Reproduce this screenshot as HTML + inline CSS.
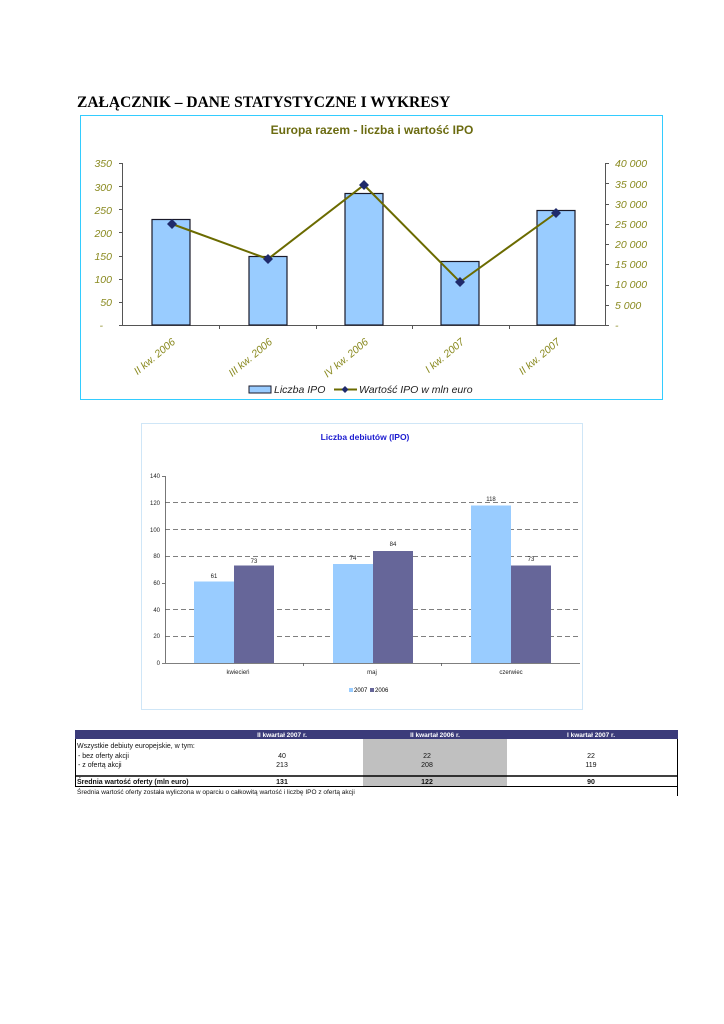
<!DOCTYPE html>
<html><head><meta charset="utf-8"><style>
html,body{margin:0;padding:0;background:#fff;}
svg{display:block;}
</style></head><body>
<svg width="724" height="1024" viewBox="0 0 724 1024" xmlns="http://www.w3.org/2000/svg" font-family="Liberation Sans, sans-serif">
<text x="77" y="107" font-family="Liberation Serif, serif" font-weight="bold" font-size="15.5">ZAŁĄCZNIK – DANE STATYSTYCZNE I WYKRESY</text>

<!-- Chart 1 -->
<rect x="80.5" y="115.5" width="582" height="284" fill="#fff" stroke="#33ccff" stroke-width="1"/>
<text x="372" y="134" text-anchor="middle" font-weight="bold" font-size="12" fill="#6b6b10">Europa razem - liczba i wartość IPO</text>
<g fill="#8a8a20" font-style="italic" font-size="10.5" text-anchor="end">
<text x="112" y="167">350</text><text x="112" y="191">300</text><text x="112" y="214">250</text><text x="112" y="237">200</text><text x="112" y="260">150</text><text x="112" y="283">100</text><text x="112" y="306">50</text><text x="103" y="329">-</text>
</g>
<g fill="#8a8a20" font-style="italic" font-size="10.5">
<text x="615" y="167">40 000</text><text x="615" y="188">35 000</text><text x="615" y="208">30 000</text><text x="615" y="228">25 000</text><text x="615" y="248">20 000</text><text x="615" y="268">15 000</text><text x="615" y="288">10 000</text><text x="615" y="309">5 000</text><text x="615" y="329">-</text>
</g>
<g stroke="#555" stroke-width="1">
<line x1="122.5" y1="163" x2="122.5" y2="326"/>
<line x1="605.5" y1="163" x2="605.5" y2="326"/>
<line x1="119" y1="325.5" x2="609" y2="325.5"/>
<line x1="119" y1="163.5" x2="122" y2="163.5"/><line x1="119" y1="186.5" x2="122" y2="186.5"/><line x1="119" y1="209.5" x2="122" y2="209.5"/><line x1="119" y1="232.5" x2="122" y2="232.5"/><line x1="119" y1="256.5" x2="122" y2="256.5"/><line x1="119" y1="279.5" x2="122" y2="279.5"/><line x1="119" y1="302.5" x2="122" y2="302.5"/>
<line x1="605" y1="163.5" x2="609" y2="163.5"/><line x1="605" y1="183.5" x2="609" y2="183.5"/><line x1="605" y1="204.5" x2="609" y2="204.5"/><line x1="605" y1="224.5" x2="609" y2="224.5"/><line x1="605" y1="244.5" x2="609" y2="244.5"/><line x1="605" y1="264.5" x2="609" y2="264.5"/><line x1="605" y1="285.5" x2="609" y2="285.5"/><line x1="605" y1="305.5" x2="609" y2="305.5"/>
<line x1="219.5" y1="325" x2="219.5" y2="329"/><line x1="316.5" y1="325" x2="316.5" y2="329"/><line x1="412.5" y1="325" x2="412.5" y2="329"/><line x1="509.5" y1="325" x2="509.5" y2="329"/>
</g>
<g fill="#99ccff" stroke="#1a1a2a" stroke-width="1.2">
<rect x="152" y="219.5" width="38" height="105.5"/>
<rect x="249" y="256.5" width="38" height="68.5"/>
<rect x="345" y="193.5" width="38" height="131.5"/>
<rect x="441" y="261.5" width="38" height="63.5"/>
<rect x="537" y="210.5" width="38" height="114.5"/>
</g>
<polyline points="172,224 268,259 364,185 460,282 556,213" fill="none" stroke="#6b6b00" stroke-width="2"/>
<g fill="#1f2a6b">
<path d="M172 219l5 5-5 5-5-5z"/><path d="M268 254l5 5-5 5-5-5z"/><path d="M364 180l5 5-5 5-5-5z"/><path d="M460 277l5 5-5 5-5-5z"/><path d="M556 208l5 5-5 5-5-5z"/>
</g>
<g fill="#8a8a20" font-style="italic" font-size="10.5" text-anchor="end">
<text transform="translate(176,343) rotate(-40)">II kw. 2006</text>
<text transform="translate(273,343) rotate(-40)">III kw. 2006</text>
<text transform="translate(369,343) rotate(-40)">IV kw. 2006</text>
<text transform="translate(465,343) rotate(-40)">I kw. 2007</text>
<text transform="translate(561,343) rotate(-40)">II kw. 2007</text>
</g>
<rect x="249" y="386" width="22" height="7" fill="#99ccff" stroke="#1a1a2a"/>
<text x="274" y="393" font-style="italic" font-size="10.5" fill="#222">Liczba IPO</text>
<line x1="334" y1="389.5" x2="357" y2="389.5" stroke="#6b6b00" stroke-width="2"/>
<path d="M345 386l3.5 3.5-3.5 3.5-3.5-3.5z" fill="#1f2a6b"/>
<text x="359" y="393" font-style="italic" font-size="10.5" fill="#222">Wartość IPO w mln euro</text>

<!-- Chart 2 -->
<rect x="141.5" y="423.5" width="441" height="286" fill="#fff" stroke="#cfe6f7" stroke-width="1"/>
<text x="365" y="440" text-anchor="middle" font-weight="bold" font-size="8.5" fill="#1a1ad0">Liczba debiutów (IPO)</text>
<g stroke="#555" stroke-width="0.8" stroke-dasharray="5,3">
<line x1="165" y1="502.5" x2="580" y2="502.5"/><line x1="165" y1="529.5" x2="580" y2="529.5"/><line x1="165" y1="556.5" x2="580" y2="556.5"/><line x1="165" y1="609.5" x2="580" y2="609.5"/><line x1="165" y1="636.5" x2="580" y2="636.5"/>
</g>
<g fill="#99ccff">
<rect x="194" y="581.5" width="40" height="81.5"/><rect x="333" y="564" width="40" height="99"/><rect x="471" y="505.5" width="40" height="157.5"/>
</g>
<g fill="#666699">
<rect x="234" y="565.5" width="40" height="97.5"/><rect x="373" y="551" width="40" height="112"/><rect x="511" y="565.5" width="40" height="97.5"/>
</g>
<g stroke="#555" stroke-width="0.8">
<line x1="165.5" y1="476" x2="165.5" y2="663"/><line x1="162" y1="663.5" x2="580" y2="663.5"/>
<line x1="303.5" y1="663" x2="303.5" y2="666"/><line x1="441.5" y1="663" x2="441.5" y2="666"/>
<line x1="162" y1="476.5" x2="165" y2="476.5"/><line x1="162" y1="583.5" x2="165" y2="583.5"/>
</g>
<g font-size="6" fill="#222" text-anchor="end">
<text x="160" y="478">140</text><text x="160" y="505">120</text><text x="160" y="532">100</text><text x="160" y="558">80</text><text x="160" y="585">60</text><text x="160" y="612">40</text><text x="160" y="638">20</text><text x="160" y="665">0</text>
</g>
<g font-size="6" fill="#222" text-anchor="middle">
<text x="214" y="578">61</text><text x="254" y="563">73</text><text x="353" y="560">74</text><text x="393" y="546">84</text><text x="491" y="501">118</text><text x="531" y="561">73</text>
<text x="238" y="674">kwiecień</text><text x="372" y="674">maj</text><text x="511" y="674">czerwiec</text>
</g>
<rect x="349" y="688" width="4" height="4" fill="#99ccff"/><text x="354" y="692" font-size="6">2007</text>
<rect x="370" y="688" width="4" height="4" fill="#666699"/><text x="375" y="692" font-size="6">2006</text>

<!-- Table -->
<rect x="75" y="730" width="603" height="9" fill="#3b3b7a"/>
<g font-size="6.5" font-weight="bold" fill="#fff" text-anchor="middle">
<text x="282" y="737">II kwartał 2007 r.</text><text x="435" y="737">II kwartał 2006 r.</text><text x="591" y="737">I kwartał 2007 r.</text>
</g>
<rect x="363" y="739" width="144" height="48" fill="#c0c0c0"/>
<line x1="75.5" y1="739" x2="75.5" y2="787" stroke="#000" stroke-width="1"/>
<line x1="677.5" y1="739" x2="677.5" y2="796" stroke="#000" stroke-width="1"/>
<g font-size="7" fill="#111">
<text x="77" y="748">Wszystkie debiuty europejskie, w tym:</text>
<text x="78" y="758">- bez oferty akcji</text>
<text x="78" y="767">- z ofertą akcji</text>
</g>
<g font-size="7" fill="#111" text-anchor="middle">
<text x="282" y="758">40</text><text x="427" y="758">22</text><text x="591" y="758">22</text>
<text x="282" y="767">213</text><text x="427" y="767">208</text><text x="591" y="767">119</text>
</g>
<line x1="75" y1="776" x2="678" y2="776" stroke="#000" stroke-width="1.5"/>
<line x1="75" y1="786.5" x2="678" y2="786.5" stroke="#000" stroke-width="1"/>
<g font-size="7" font-weight="bold" fill="#111">
<text x="77" y="784">Średnia wartość oferty (mln euro)</text>
<text x="282" y="784" text-anchor="middle">131</text><text x="427" y="784" text-anchor="middle">122</text><text x="591" y="784" text-anchor="middle">90</text>
</g>
<text x="77" y="794" font-size="6.5" fill="#111">Średnia wartość oferty została wyliczona w oparciu o całkowitą wartość i liczbę IPO z ofertą akcji</text>
</svg>
</body></html>
